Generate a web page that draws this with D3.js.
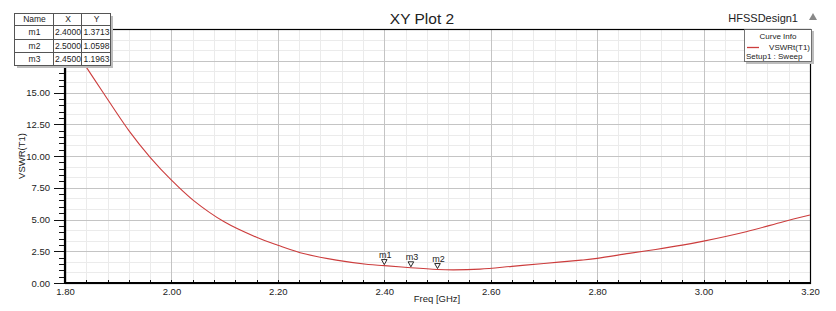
<!DOCTYPE html>
<html lang="en">
<head>
	<title>XY Plot 2</title>
	<meta charset="utf-8">
	<script src="https://d3js.org/d3.v7.min.js"></script>
	<style type="text/css">
		body {
			margin: 0;
			background: #fff;
			font-family: "Liberation Sans", Arial, sans-serif;
		}
		svg text {
			fill: #222;
		}
		.grid-minor line {
			stroke: #ebebeb;
			stroke-width: 1;
			shape-rendering: crispEdges;
		}
		.grid-major line {
			stroke: #c4c4c4;
			stroke-width: 1;
			shape-rendering: crispEdges;
		}
		.axis path.domain {
			display: none;
		}
		.axis line {
			stroke: #111;
			shape-rendering: crispEdges;
		}
		.axis text {
			font-family: "Liberation Sans", Arial, sans-serif;
			font-size: 9.5px;
			fill: #222;
		}
		.curve {
			fill: none;
			stroke: #cc3d3d;
			stroke-width: 1.1;
		}
	</style>
</head>
<body>
	<div id="vis"></div>
	<script type="text/javascript">

		/* Data */
		/* ==== */

		// Frequency samples [GHz] and VSWR
		const freq = [1.80, 1.84, 1.87, 1.92, 1.96, 2.00, 2.04, 2.10, 2.16, 2.20, 2.25, 2.31, 2.37,
			2.40, 2.45, 2.50, 2.53, 2.58, 2.64, 2.70, 2.77, 2.80, 2.86, 2.91, 2.96, 3.00, 3.08, 3.15, 3.20];
		const vswr = [19.6, 17.0, 15.1, 12.0, 9.9, 8.1, 6.55, 4.8, 3.6, 2.98, 2.30, 1.80, 1.46,
			1.3713, 1.1963, 1.0598, 1.03, 1.09, 1.31, 1.54, 1.80, 1.94, 2.33, 2.64, 2.98, 3.30, 4.04, 4.83, 5.36];

		const markerNames = ['m1', 'm2', 'm3'];
		const markerX = [2.4, 2.5, 2.45];
		const markerY = [1.3713, 1.0598, 1.1963];

		const xTicks = [1.80, 2.00, 2.20, 2.40, 2.60, 2.80, 3.00, 3.20];
		const yTicks = [0, 2.5, 5, 7.5, 10, 12.5, 15];

		const title = 'XY Plot 2';
		const design = 'HFSSDesign1';
		const seriesName = 'VSWRt(T1)';
		const setupName = 'Setup1 : Sweep';

		/* Set up */
		/* ====== */

		const width = 836, height = 311;
		const margin = { top: 29, left: 65, right: 26, bottom: 28 };
		const innerW = width - margin.left - margin.right;
		const innerH = height - margin.top - margin.bottom;

		const svg = d3.select('#vis').append('svg')
			.attr('width', width)
			.attr('height', height);

		const xScale = d3.scaleLinear().domain([1.8, 3.2]).range([0, innerW]);
		const yScale = d3.scaleLinear().domain([0, 20]).range([innerH, 0]);

		const chart = svg.append('g')
			.attr('transform', 'translate(' + margin.left + ',' + margin.top + ')');

		/* Grid */
		/* ---- */

		const xMinor = d3.range(1.8, 3.2001, 0.04);
		const yMinor = d3.range(0, 20.001, 2.5 / 3);

		chart.append('g').attr('class', 'grid-minor')
			.selectAll('line.v').data(xMinor).enter().append('line')
			.attr('x1', d => Math.round(xScale(d)) + 0.5).attr('x2', d => Math.round(xScale(d)) + 0.5)
			.attr('y1', 0).attr('y2', innerH);
		chart.select('.grid-minor')
			.selectAll('line.h').data(yMinor).enter().append('line')
			.attr('x1', 0).attr('x2', innerW)
			.attr('y1', d => Math.round(yScale(d)) + 0.5).attr('y2', d => Math.round(yScale(d)) + 0.5);

		const yMajor = d3.range(0, 20.001, 2.5);
		chart.append('g').attr('class', 'grid-major')
			.selectAll('line.v').data(xTicks).enter().append('line')
			.attr('x1', d => Math.round(xScale(d)) + 0.5).attr('x2', d => Math.round(xScale(d)) + 0.5)
			.attr('y1', 0).attr('y2', innerH);
		chart.select('.grid-major')
			.selectAll('line.h').data(yMajor).enter().append('line')
			.attr('x1', 0).attr('x2', innerW)
			.attr('y1', d => Math.round(yScale(d)) + 0.5).attr('y2', d => Math.round(yScale(d)) + 0.5);

		/* Axes */
		/* ---- */

		const fmt = d3.format('.2f');

		// y minor ticks
		chart.append('g').attr('class', 'axis')
			.call(d3.axisLeft(yScale).tickValues(d3.range(0, 20.001, 0.5)).tickSize(6).tickFormat(''));
		chart.append('g').attr('class', 'axis')
			.call(d3.axisLeft(yScale).tickValues(yTicks).tickSize(11).tickPadding(4).tickFormat(fmt));

		chart.append('g').attr('class', 'axis')
			.attr('transform', 'translate(0,' + innerH + ')')
			.call(d3.axisTop(xScale).tickValues(xMinor).tickSize(3).tickFormat(''));
		chart.append('g').attr('class', 'axis')
			.attr('transform', 'translate(0,' + innerH + ')')
			.call(d3.axisBottom(xScale).tickValues(xTicks).tickSize(0).tickPadding(5).tickFormat(fmt));

		// Frame
		chart.append('rect')
			.attr('x', 0.5).attr('y', 0.5)
			.attr('width', innerW).attr('height', innerH)
			.attr('fill', 'none').attr('stroke', '#000').attr('stroke-width', 1.2);
		chart.append('line').attr('x1', 0).attr('x2', 0).attr('y1', 0).attr('y2', innerH + 1)
			.attr('stroke', '#000').attr('stroke-width', 2.2);
		chart.append('line').attr('x1', 0).attr('x2', innerW + 1).attr('y1', innerH).attr('y2', innerH)
			.attr('stroke', '#000').attr('stroke-width', 2.2);

		/* Curve */
		/* ----- */

		const points = freq.map((f, i) => [f, vswr[i]]);
		const line = d3.line()
			.x(d => xScale(d[0]))
			.y(d => yScale(d[1]))
			.curve(d3.curveCatmullRom.alpha(0.5));

		chart.append('path')
			.datum(points)
			.attr('class', 'curve')
			.attr('d', line);

		/* Markers */
		/* ------- */

		const mk = chart.selectAll('.marker')
			.data(markerNames.map((n, i) => ({ name: n, x: markerX[i], y: markerY[i] })))
			.enter().append('g')
			.attr('class', 'marker')
			.attr('transform', d => 'translate(' + xScale(d.x) + ',' + yScale(d.y) + ')');
		mk.append('path')
			.attr('d', 'M0,-1 L-2.8,-6 L2.8,-6 Z')
			.attr('fill', '#fff').attr('stroke', '#111').attr('stroke-width', 0.9);
		mk.append('text')
			.attr('x', 1).attr('y', -8)
			.attr('text-anchor', 'middle')
			.style('font-size', '9px')
			.text(d => d.name);

		/* Labels */
		/* ------ */

		svg.append('text')
			.attr('x', 422).attr('y', 24)
			.attr('text-anchor', 'middle')
			.style('font-size', '15.5px')
			.text(title);

		svg.append('text')
			.attr('x', 798).attr('y', 22)
			.attr('text-anchor', 'end')
			.style('font-size', '11px')
			.text(design);
		svg.append('path')
			.attr('d', 'M813,13 L817,20 L809,20 Z')
			.attr('fill', '#888');

		svg.append('text')
			.attr('x', 437).attr('y', 302)
			.attr('text-anchor', 'middle')
			.style('font-size', '9.5px')
			.text('Freq [GHz]');

		svg.append('text')
			.attr('transform', 'translate(25,' + (margin.top + yScale(10)) + ') rotate(-90)')
			.attr('text-anchor', 'middle')
			.style('font-size', '9.5px')
			.text('VSWR(T1)');

		/* Curve info box */
		/* -------------- */

		const box = svg.append('g').attr('transform', 'translate(744,29)');
		box.append('rect').attr('x', 2).attr('y', 2).attr('width', 68).attr('height', 33).attr('fill', '#bdbdbd');
		box.append('rect').attr('x', 0.5).attr('y', 0.5).attr('width', 67).attr('height', 32)
			.attr('fill', '#fff').attr('stroke', '#555').attr('stroke-width', 0.8);
		box.append('text').attr('x', 34).attr('y', 10).attr('text-anchor', 'middle')
			.style('font-size', '8px').text('Curve Info');
		box.append('line').attr('x1', 3).attr('x2', 15).attr('y1', 18.5).attr('y2', 18.5)
			.attr('stroke', '#cc3d3d').attr('stroke-width', 1.3);
		box.append('text').attr('x', 66).attr('y', 21).attr('text-anchor', 'end')
			.style('font-size', '8px').text(seriesName);
		box.append('text').attr('x', 2).attr('y', 30)
			.style('font-size', '8px').text(setupName);

		/* Marker table */
		/* ------------ */

		const cols = [14, 53, 81, 110];
		const rowsY = [13, 25, 39, 52, 65];
		const table = svg.append('g');
		table.append('rect').attr('x', cols[0] + 3).attr('y', rowsY[0] + 3)
			.attr('width', cols[3] - cols[0]).attr('height', rowsY[4] - rowsY[0]).attr('fill', '#bdbdbd');
		table.append('rect').attr('x', cols[0] + 0.5).attr('y', rowsY[0] + 0.5)
			.attr('width', cols[3] - cols[0]).attr('height', rowsY[4] - rowsY[0])
			.attr('fill', '#fff').attr('stroke', '#555');
		[1, 2].forEach(i => table.append('line')
			.attr('x1', cols[i] + 0.5).attr('x2', cols[i] + 0.5)
			.attr('y1', rowsY[0]).attr('y2', rowsY[4]).attr('stroke', '#555'));
		[1, 2, 3].forEach(i => table.append('line')
			.attr('x1', cols[0]).attr('x2', cols[3])
			.attr('y1', rowsY[i] + 0.5).attr('y2', rowsY[i] + 0.5).attr('stroke', '#555'));

		const rows = [['Name', 'X', 'Y']].concat(markerNames.map((n, i) =>
			[n, d3.format('.4f')(markerX[i]), d3.format('.4f')(markerY[i])]));
		rows.forEach((r, ri) => {
			r.forEach((c, ci) => {
				table.append('text')
					.attr('x', (cols[ci] + cols[ci + 1]) / 2 + 1)
					.attr('y', (rowsY[ri] + rowsY[ri + 1]) / 2 + 3)
					.attr('text-anchor', 'middle')
					.style('font-size', '8.5px')
					.text(c);
			});
		});

	</script>
</body>
</html>
